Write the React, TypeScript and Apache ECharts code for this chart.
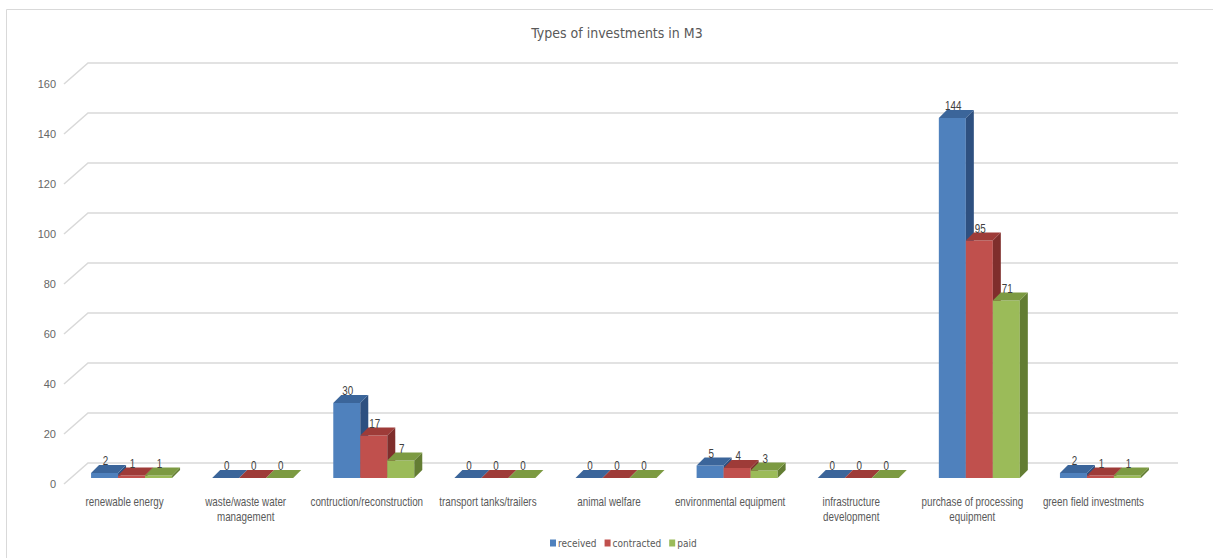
import React, { useEffect, useRef } from "react";
import * as echarts from "echarts";

const categories = [
  "renewable energy",
  "waste/waste water\nmanagement",
  "contruction/reconstruction",
  "transport tanks/trailers",
  "animal welfare",
  "environmental equipment",
  "infrastructure\ndevelopment",
  "purchase of processing\nequipment",
  "green field investments",
];
const received = [2, 0, 30, 0, 0, 5, 0, 144, 2];
const contracted = [1, 0, 17, 0, 0, 4, 0, 95, 1];
const paid = [1, 0, 7, 0, 0, 3, 0, 71, 1];
const seriesNames = ["received", "contracted", "paid"];
const yTicks = [0, 20, 40, 60, 80, 100, 120, 140, 160];

const FONT = "'Liberation Sans', Arial, sans-serif";
const COND = "'DejaVu Sans Condensed', 'Liberation Sans', sans-serif";
const NARROW = 0.82;
const FRONT = ["#4F81BD", "#C0504D", "#9BBB59"];
const TOP = ["#3B659A", "#9E3B38", "#7C9A42"];
const SIDE = ["#2E5080", "#7F2E2C", "#637D33"];

// 3D geometry (px)
const BAR_W = 27;
const BAR_DX = 8;
const BAR_DY = -8;
const FRONT_DX = 7;
const FRONT_DY = -6;
const WALL_DX = 24;
const WALL_DY = -21;

export default function App() {
  const ref = useRef<HTMLDivElement>(null);
  useEffect(() => {
    if (!ref.current) return;
    const chart = echarts.init(ref.current, null, { renderer: "svg" });

    const makeBarSeries = (s: number, data: number[]) => ({
      type: "custom",
      name: seriesNames[s],
      itemStyle: { color: FRONT[s] },
      z: 3 + s,
      data: data.map((v, i) => [i, v]),
      renderItem: (params: any, api: any) => {
        const idx = api.value(0);
        const val = api.value(1);
        const base = api.coord([idx, 0]);
        const top = api.coord([idx, val]);
        const x0 = base[0] + FRONT_DX - (BAR_W * 3) / 2 + s * BAR_W;
        const yb = base[1] + FRONT_DY;
        const yt = top[1] + FRONT_DY;
        const h = yb - yt;
        const children: any[] = [];
        if (h > 0) {
          children.push({
            type: "rect",
            shape: { x: x0, y: yt, width: BAR_W, height: h },
            style: { fill: FRONT[s] },
          });
          children.push({
            type: "polygon",
            shape: {
              points: [
                [x0 + BAR_W, yt],
                [x0 + BAR_W + BAR_DX, yt + BAR_DY],
                [x0 + BAR_W + BAR_DX, yb + BAR_DY],
                [x0 + BAR_W, yb],
              ],
            },
            style: { fill: SIDE[s] },
          });
        }
        children.push({
          type: "polygon",
          shape: {
            points: [
              [x0, yt],
              [x0 + BAR_W, yt],
              [x0 + BAR_W + BAR_DX, yt + BAR_DY],
              [x0 + BAR_DX, yt + BAR_DY],
            ],
          },
          style: { fill: TOP[s] },
        });
        children.push({
          type: "text",
          x: x0 + BAR_W / 2 + 1,
          y: yt + BAR_DY + 2,
          scaleX: NARROW,
          style: {
            text: String(val),
            fill: "#404040",
            font: `12px ${FONT}`,
            align: "center",
            verticalAlign: "bottom",
          },
        });
        return { type: "group", children };
      },
    });

    const option: any = {
      animation: false,
      backgroundColor: "#ffffff",
      title: {
        text: "Types of investments in M3",
        left: 612,
        textAlign: "center",
        top: 21,
        textStyle: {
          fontFamily: COND,
          fontSize: 14,
          fontWeight: "normal",
          color: "#595959",
        },
      },
      legend: {
        bottom: 5,
        left: 545,
        icon: "rect",
        itemWidth: 6,
        itemHeight: 7,
        itemGap: 8,
        textStyle: { fontFamily: COND, fontSize: 10, color: "#595959", padding: [0, 0, 0, -3] },
        data: seriesNames,
      },
      grid: { left: 64, top: 84, width: 1090, height: 400 },
      xAxis: {
        type: "category",
        data: categories,
        axisLine: { show: false },
        axisTick: { show: false },
        axisLabel: { show: false },
      },
      yAxis: {
        type: "value",
        min: 0,
        max: 160,
        interval: 20,
        axisLine: { show: false },
        axisTick: { show: false },
        splitLine: { show: false },
        axisLabel: {
          margin: 8,
          fontFamily: FONT,
          fontSize: 11,
          color: "#666666",
        },
      },
      graphic: [
        {
          type: "rect",
          shape: { x: 6.5, y: 9.5, width: 1240, height: 600 },
          style: { fill: "none", stroke: "#D9D9D9", lineWidth: 1 },
          silent: true,
        },
      ],
      series: [
        {
          type: "custom",
          name: "grid",
          z: 1,
          silent: true,
          data: yTicks.map((v) => [0, v]),
          renderItem: (params: any, api: any) => {
            const v = api.value(1);
            const p = api.coord([0, v]);
            const left = params.coordSys.x;
            const right = params.coordSys.x + params.coordSys.width;
            const y = p[1];
            return {
              type: "polyline",
              shape: {
                points: [
                  [left, y],
                  [left + WALL_DX, y + WALL_DY],
                  [right + WALL_DX, y + WALL_DY],
                ],
              },
              style: { stroke: "#D9D9D9", lineWidth: 1.5, fill: "none" },
            };
          },
        },
        {
          type: "custom",
          name: "categoryLabels",
          z: 2,
          silent: true,
          data: categories.map((c, i) => [i, 0]),
          renderItem: (params: any, api: any) => {
            const idx = api.value(0);
            const p = api.coord([idx, 0]);
            return {
              type: "text",
              x: p[0],
              y: p[1] + 10,
              scaleX: NARROW,
              style: {
                text: categories[idx],
                fill: "#595959",
                font: `12px ${FONT}`,
                lineHeight: 15,
                align: "center",
                verticalAlign: "top",
              },
            };
          },
        },
        makeBarSeries(0, received),
        makeBarSeries(1, contracted),
        makeBarSeries(2, paid),
      ],
    };
    chart.setOption(option);
    return () => chart.dispose();
  }, []);
  return (
    <div
      ref={ref}
      style={{ position: "absolute", left: 0, top: 0, width: 1213, height: 558 }}
    />
  );
}
